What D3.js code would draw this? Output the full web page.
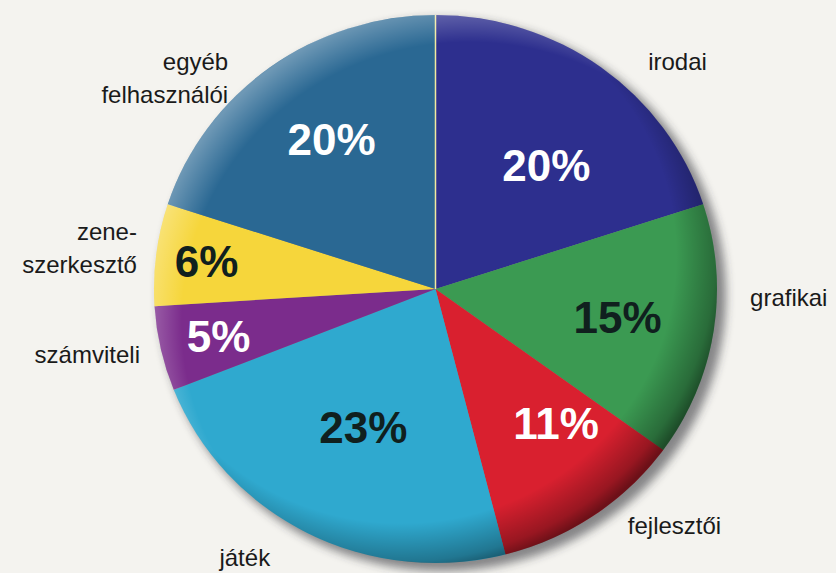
<!DOCTYPE html>
<html>
<head>
<meta charset="utf-8">
<script src="https://cdn.jsdelivr.net/npm/d3@7"></script>
<style>
  html, body { margin: 0; padding: 0; background: #f4f3ef; }
  svg { display: block; }
</style>
</head>
<body>
<div id="container"></div>
<script>
// 数据：各类软件所占比例（顺时针，从 12 点方向开始）
const categories = ["irodai", "grafikai", "fejlesztői", "játék", "számviteli", "zene-szerkesztő", "egyéb felhasználói"];
const labelLines = [["irodai"], ["grafikai"], ["fejlesztői"], ["játék"], ["számviteli"], ["zene-", "szerkesztő"], ["egyéb", "felhasználói"]];
const shares = [20, 15, 11, 23, 5, 6, 20];

// 样式与布局
const colors = ["#2d2f8e", "#3b9a52", "#d9202f", "#2fa9cf", "#7b2c8c", "#f6d63b", "#2a6893"];
const pctColors = ["#fff", "#10201e", "#fff", "#10201e", "#fff", "#10201e", "#fff"];
// 百分比标签：半径比例 + 角度微调（度）
const pctRadius = [0.6, 0.655, 0.65, 0.565, 0.79, 0.82, 0.66];
const pctNudge = [5, 0, -7, 0, 0, 0, 2];
// 外部类别标签：角度（度）、半径比例、对齐方式
const outAngle = [46, 91.7, 141.6, 214.6, 257.1, 278, 316.3];
const outRadius = [1.195, 1.118, 1.1, 1.193, 1.077, 1.071, 1.066];
const outAnchor = ["middle", "start", "start", "middle", "end", "end", "end"];

const width = 836, height = 573;
const cx = 435.5, cy = 289;
const rx = 281.5, ry = 274;
const k = ry / rx;

const svg = d3.select("#container").append("svg")
  .attr("width", width).attr("height", height)
  .attr("viewBox", [0, 0, width, height]);

const defs = svg.append("defs");
defs.append("filter").attr("id", "blur").attr("x", "-20%").attr("y", "-20%").attr("width", "140%").attr("height", "140%")
  .append("feGaussianBlur").attr("stdDeviation", 5);

const dark = defs.append("radialGradient").attr("id", "rimDark")
  .attr("cx", 0.44).attr("cy", 0.44).attr("r", 0.58);
dark.append("stop").attr("offset", 0.84).attr("stop-color", "#000").attr("stop-opacity", 0);
dark.append("stop").attr("offset", 0.96).attr("stop-color", "#000").attr("stop-opacity", 0.3);
dark.append("stop").attr("offset", 1).attr("stop-color", "#000").attr("stop-opacity", 0.5);

const light = defs.append("radialGradient").attr("id", "rimLight")
  .attr("cx", 0.56).attr("cy", 0.56).attr("r", 0.58);
light.append("stop").attr("offset", 0.88).attr("stop-color", "#fff").attr("stop-opacity", 0);
light.append("stop").attr("offset", 1).attr("stop-color", "#fff").attr("stop-opacity", 0.32);

// 阴影
svg.append("ellipse")
  .attr("cx", cx + 7).attr("cy", cy + 6).attr("rx", rx + 2).attr("ry", ry + 2)
  .attr("fill", "#2a2a30").attr("opacity", 0.55).attr("filter", "url(#blur)");

const pie = d3.pie().sort(null).value(d => d)(shares);
const arc = d3.arc().innerRadius(0).outerRadius(rx);

const g = svg.append("g").attr("transform", `translate(${cx},${cy}) scale(1,${k})`);
g.selectAll("path.slice").data(pie).join("path")
  .attr("class", "slice")
  .attr("d", arc)
  .attr("fill", (d, i) => colors[i]);

// 起始边界的细亮线
g.append("line")
  .attr("x1", 0).attr("y1", 0).attr("x2", 0).attr("y2", -rx)
  .attr("stroke", "#f2e9a0").attr("stroke-width", 1.5);

g.append("circle").attr("r", rx).attr("fill", "url(#rimDark)");
g.append("circle").attr("r", rx).attr("fill", "url(#rimLight)");

const polar = (deg, r) => {
  const a = deg * Math.PI / 180;
  return [cx + Math.sin(a) * r, cy - Math.cos(a) * r * k];
};

// 百分比标签
svg.append("g")
  .attr("font-family", "'Liberation Sans', Arial, Helvetica, sans-serif")
  .attr("font-weight", "bold")
  .attr("font-size", 44)
  .attr("text-anchor", "middle")
  .selectAll("text").data(pie).join("text")
  .each(function (d, i) {
    const mid = (d.startAngle + d.endAngle) / 2 * 180 / Math.PI + pctNudge[i];
    const [x, y] = polar(mid, rx * pctRadius[i]);
    d3.select(this).attr("x", x).attr("y", y).attr("dy", "0.36em");
  })
  .attr("fill", (d, i) => pctColors[i])
  .text(d => d.data + "%");

// 类别标签
svg.append("g")
  .attr("font-family", "'Liberation Sans', Arial, Helvetica, sans-serif")
  .attr("font-size", 24)
  .attr("fill", "#1a1a1a")
  .selectAll("text").data(categories).join("text")
  .attr("text-anchor", (d, i) => outAnchor[i])
  .each(function (d, i) {
    const [x, y] = polar(outAngle[i], rx * outRadius[i]);
    const lines = labelLines[i];
    const lh = 33;
    d3.select(this).selectAll("tspan").data(lines).join("tspan")
      .attr("x", x)
      .attr("y", (t, j) => y + (j - (lines.length - 1) / 2) * lh)
      .attr("dy", "0.35em")
      .text(t => t);
  });
</script>
</body>
</html>
